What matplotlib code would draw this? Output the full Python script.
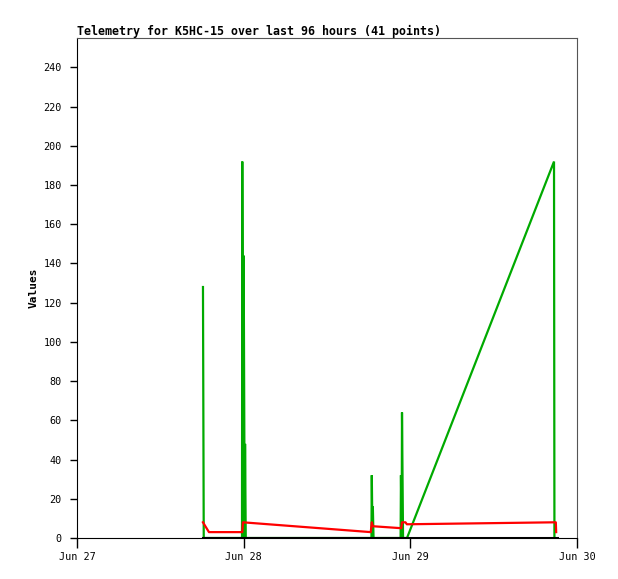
import matplotlib
matplotlib.use("Agg")
import matplotlib.pyplot as plt

# hours since Jun 27 00:00
green_t = [18.14, 18.25, 23.76, 23.80, 23.95, 24.00, 24.15, 24.20, 24.30,
           42.40, 42.45, 42.55, 42.60, 42.70, 46.60, 46.65, 46.75, 46.80,
           46.95, 47.52, 68.69, 68.75]
green_v = [128, 0, 0, 192, 0, 144, 0, 48, 0,
           0, 32, 0, 16, 0, 0, 32, 0, 64,
           0, 0, 192, 0]

red_t = [18.14, 19.00, 23.80, 23.90, 42.30, 42.45, 42.60, 46.70, 46.80,
         47.30, 47.50, 68.70, 68.95, 69.00]
red_v = [8, 3, 3, 8, 3, 8, 6, 5, 8, 8, 7, 8, 8, 3]

black_t = [18.14, 69.10]
black_v = [0, 0]

day_ticks = [0, 24, 48, 72]
day_labels = ["Jun 27", "Jun 28", "Jun 29", "Jun 30"]
y_ticks = list(range(0, 241, 20))

title = "Telemetry for K5HC-15 over last 96 hours (41 points)"


def main() -> None:
    fig = plt.figure(figsize=(6.18, 5.79), dpi=100)
    ax = fig.add_axes([77 / 618, 41 / 579, 500 / 618, 500 / 579])

    ax.plot(green_t, green_v, color="#00aa00", lw=1.6, solid_joinstyle="miter")
    ax.plot(red_t, red_v, color="#ff0000", lw=1.6)
    ax.plot(black_t, black_v, color="black", lw=2.2)

    ax.set_xlim(0, 72)
    ax.set_ylim(0, 255)
    ax.set_xticks(day_ticks)
    ax.set_xticklabels(day_labels)
    ax.set_yticks(y_ticks)

    mono = "DejaVu Sans Mono"
    for lab in ax.get_xticklabels() + ax.get_yticklabels():
        lab.set_family(mono)
        lab.set_fontsize(7.3)
    ax.tick_params(axis="x", length=7, width=1, pad=3)
    ax.tick_params(axis="y", length=5, width=1, pad=6)

    ax.spines["left"].set_color("black")
    ax.spines["bottom"].set_color("black")
    ax.spines["top"].set_color("#555555")
    ax.spines["right"].set_color("#555555")

    ax.set_ylabel("Values", family=mono, fontweight="bold", fontsize=8, labelpad=3)
    fig.text(77 / 618, 1 - 31 / 579, title, family=mono, fontweight="bold",
             fontsize=8.35, ha="left", va="center")

    fig.savefig("out.png", dpi=100, facecolor="white")
    plt.close(fig)


if __name__ == "__main__":
    main()
